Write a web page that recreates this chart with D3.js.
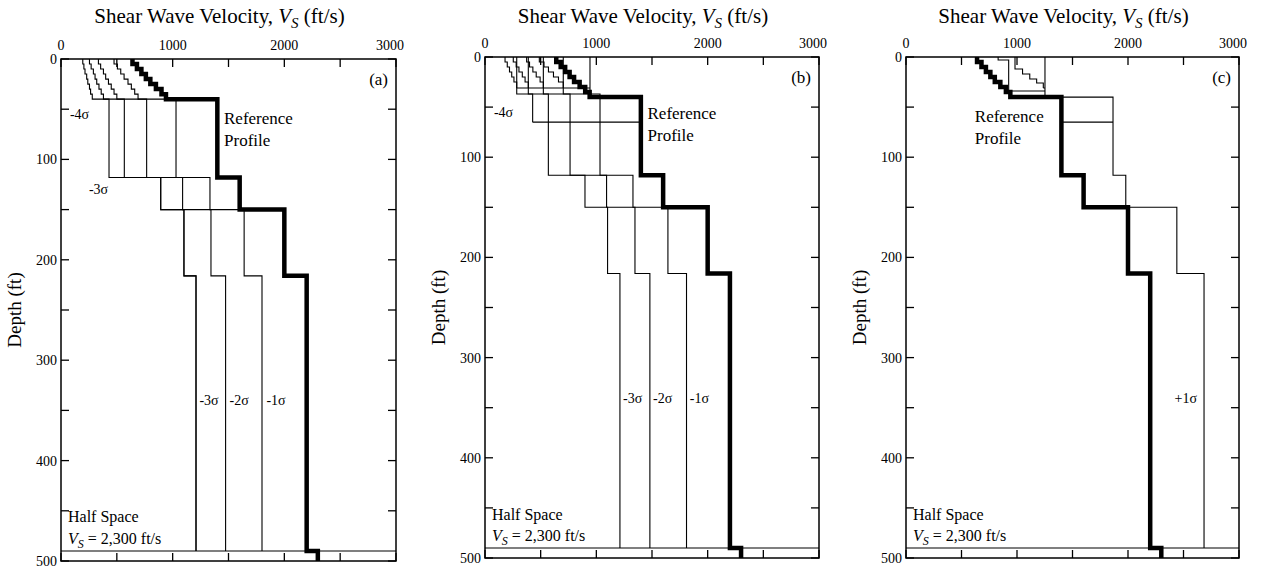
<!DOCTYPE html>
<html><head><meta charset="utf-8">
<script src="https://cdn.jsdelivr.net/npm/d3@7"></script>
<style>body{margin:0;background:#fff} svg{font-family:"Liberation Serif","Times New Roman",serif}</style>
</head><body><svg id="chart" width="1265" height="569"></svg>
<script>
// ---------------- data ----------------
const xTickValues = [0, 1000, 2000, 3000];
const xMinorTicks = [500, 1500, 2500];
const depthTickValues = [0, 100, 200, 300, 400, 500];
const depthMinorTicks = [50, 150, 250, 350, 450];
const panelLetters = ["(a)", "(b)", "(c)"];

// reference profile (same in all panels)
const refBreaks = [0, 5, 10, 15, 20, 25, 30, 35, 40, 118, 150, 216, 490, 500];
const refVs = [640, 680, 720, 760, 800, 850, 900, 940, 1400, 1600, 2000, 2200, 2300];
const halfSpaceDepth = 490;

// panel (a) profiles
const sigBreaksA = [0, 5, 10, 15, 20, 25, 30, 35, 40, 118, 150, 216, 490];
const aMinus1 = [475, 505, 535, 565, 600, 630, 660, 690, 1030, 1334, 1640, 1800];
const aMinus2 = [335, 355, 380, 400, 425, 450, 475, 500, 767, 1089, 1343, 1474];
const aMinus3 = [255, 270, 290, 305, 320, 340, 360, 380, 567, 893, 1101, 1209];
const aMinus4 = [195, 205, 215, 230, 240, 255, 265, 280, 430, 893, 1101, 1209];

// panel (b) profiles: graded top layers, then uniform-top profiles
const stairBreaksB = [0, 5, 10, 15, 20, 25, 31];
const bStair1 = [488, 530, 570, 615, 660, 703];
const bStair2 = [374, 400, 430, 460, 495, 524];
const bStair3 = [254, 280, 305, 335, 360, 389];
const bStair4 = [180, 200, 220, 240, 260, 285];
const sigBreaksB = [0, 37, 65, 118, 150, 216, 490];
const bMinus1 = [703, 1033, 1033, 1329, 1643, 1810];
const bMinus2 = [524, 764, 764, 1092, 1347, 1481];
const bMinus3 = [389, 569, 569, 898, 1101, 1212];
const bMinus4 = [285, 428];
const bRefTop = [943];
const bBoundaries = [{ depth: 31, from: 285, to: 943 }, { depth: 65, from: 428, to: 1400 }];

// panel (c) profiles
const stairBreaksC = [0, 12, 17, 22, 26, 31];
const cStair = [982, 1050, 1115, 1177, 1237];
const refTopBreaksC = [0, 3, 34];
const cRefTop = [830, 925];
const sigBreaksC = [0, 40, 65, 118, 150, 216, 490];
const cPlus1 = [1252, 1865, 1865, 1980, 2440, 2685];
const cBoundaries = [{ depth: 31, from: 1237, to: 1252 }, { depth: 34, from: 925, to: 1252 }, { depth: 65, from: 1400, to: 1865 }];

// ---------------- layout ----------------
const panels = [
  { left: 61, right: 396, top: 59, bottom: 561 },
  { left: 485, right: 819, top: 57, bottom: 558 },
  { left: 906, right: 1239, top: 57, bottom: 558 }
];

const svg = d3.select("#chart");

function stepPoints(breaks, vs) {
  const pts = [];
  vs.forEach((v, i) => {
    if (breaks[i + 1] === undefined) return;
    pts.push([v, breaks[i]]);
    pts.push([v, breaks[i + 1]]);
  });
  return pts;
}

panels.forEach((p, pi) => {
  const x = d3.scaleLinear().domain([0, 3000]).range([p.left, p.right]);
  const y = d3.scaleLinear().domain([0, 500]).range([p.top, p.bottom]);
  const g = svg.append("g");
  const line = d3.line().x(d => x(d[0])).y(d => y(d[1]));

  const thin = (pts) => g.append("path").attr("d", line(pts)).attr("fill", "none")
      .attr("stroke", "#000").attr("stroke-width", 1.1);
  const hline = (dep, a, b) => thin([[a, dep], [b, dep]]);

  hline(halfSpaceDepth, 0, 3000);

  if (pi === 0) {
    [aMinus1, aMinus2, aMinus3, aMinus4].forEach(v => thin(stepPoints(sigBreaksA, v)));
  } else if (pi === 1) {
    [bStair1, bStair2, bStair3, bStair4].forEach(v => thin(stepPoints(stairBreaksB, v)));
    [bMinus1, bMinus2, bMinus3, bMinus4, bRefTop].forEach(v => thin(stepPoints(sigBreaksB, v)));
    bBoundaries.forEach(b => hline(b.depth, b.from, b.to));
  } else {
    thin(stepPoints(stairBreaksC, cStair));
    thin(stepPoints(refTopBreaksC, cRefTop));
    thin(stepPoints(sigBreaksC, cPlus1));
    cBoundaries.forEach(b => hline(b.depth, b.from, b.to));
  }

  g.append("path").attr("d", line(stepPoints(refBreaks, refVs))).attr("fill", "none")
    .attr("stroke", "#000").attr("stroke-width", 4.5).attr("stroke-linejoin", "miter");

  g.append("rect").attr("x", p.left).attr("y", p.top).attr("width", p.right - p.left)
    .attr("height", p.bottom - p.top).attr("fill", "none").attr("stroke", "#000").attr("stroke-width", 1.5);

  const tl = 8;
  xTickValues.concat(xMinorTicks).forEach(t => {
    g.append("line").attr("x1", x(t)).attr("x2", x(t)).attr("y1", p.top).attr("y2", p.top + tl).attr("stroke", "#000").attr("stroke-width", 1.3);
    g.append("line").attr("x1", x(t)).attr("x2", x(t)).attr("y1", p.bottom).attr("y2", p.bottom - tl).attr("stroke", "#000").attr("stroke-width", 1.3);
  });
  depthTickValues.concat(depthMinorTicks).forEach(t => {
    g.append("line").attr("y1", y(t)).attr("y2", y(t)).attr("x1", p.left).attr("x2", p.left + tl).attr("stroke", "#000").attr("stroke-width", 1.3);
    g.append("line").attr("y1", y(t)).attr("y2", y(t)).attr("x1", p.right).attr("x2", p.right - tl).attr("stroke", "#000").attr("stroke-width", 1.3);
  });

  g.selectAll(null).data(xTickValues).enter().append("text")
    .attr("x", d => x(d)).attr("y", p.top - 9).attr("text-anchor", "middle")
    .attr("dx", (d, i) => i === xTickValues.length - 1 ? -6 : 0)
    .attr("font-size", 14).text(d => d);
  g.selectAll(null).data(depthTickValues).enter().append("text")
    .attr("x", p.left - 4).attr("y", d => y(d)).attr("dy", "0.35em").attr("text-anchor", "end")
    .attr("font-size", 14).text(d => d);

  const title = g.append("text").attr("x", (p.left + p.right) / 2 - 9).attr("y", 23)
    .attr("text-anchor", "middle").attr("font-size", 21);
  title.append("tspan").text("Shear Wave Velocity, ");
  title.append("tspan").attr("font-style", "italic").text("V");
  title.append("tspan").attr("font-style", "italic").attr("font-size", 15).attr("dy", 5).text("S");
  title.append("tspan").attr("dy", -5).text(" (ft/s)");

  g.append("text").attr("transform", `translate(${p.left - 40},${(p.top + p.bottom) / 2}) rotate(-90)`)
    .attr("text-anchor", "middle").attr("font-size", 19).text("Depth (ft)");

  g.append("text").attr("x", p.right - 8).attr("y", y(20)).attr("dy", "0.35em").attr("text-anchor", "end")
    .attr("font-size", 17).text(panelLetters[pi]);

  g.append("text").attr("x", p.left + 7).attr("y", y(456)).attr("dy", "0.35em").attr("font-size", 16).text("Half Space");
  const hs = g.append("text").attr("x", p.left + 7).attr("y", y(477)).attr("dy", "0.35em").attr("font-size", 16);
  hs.append("tspan").attr("font-style", "italic").text("V");
  hs.append("tspan").attr("font-style", "italic").attr("font-size", 12).attr("dy", 4).text("S");
  hs.append("tspan").attr("dy", -4).text(" = 2,300 ft/s");

  const refX = pi === 2 ? x(620) : x(1460);
  const refY = pi === 1 ? 56 : 59;
  g.append("text").attr("x", refX).attr("y", y(refY)).attr("dy", "0.35em").attr("font-size", 17).text("Reference");
  g.append("text").attr("x", refX).attr("y", y(refY + 22)).attr("dy", "0.35em").attr("font-size", 17).text("Profile");

  const sig = (txt, vx, dep) => g.append("text").attr("x", x(vx)).attr("y", y(dep)).attr("dy", "0.35em")
    .attr("font-size", 14).text(txt);
  if (pi === 0) {
    sig("-4\u03c3", 80, 55);
    sig("-3\u03c3", 250, 130);
    sig("-3\u03c3", 1240, 340); sig("-2\u03c3", 1510, 340); sig("-1\u03c3", 1840, 340);
  } else if (pi === 1) {
    sig("-4\u03c3", 80, 55);
    sig("-3\u03c3", 1240, 340); sig("-2\u03c3", 1510, 340); sig("-1\u03c3", 1840, 340);
  } else {
    sig("+1\u03c3", 2420, 340);
  }
});
</script></body></html>
